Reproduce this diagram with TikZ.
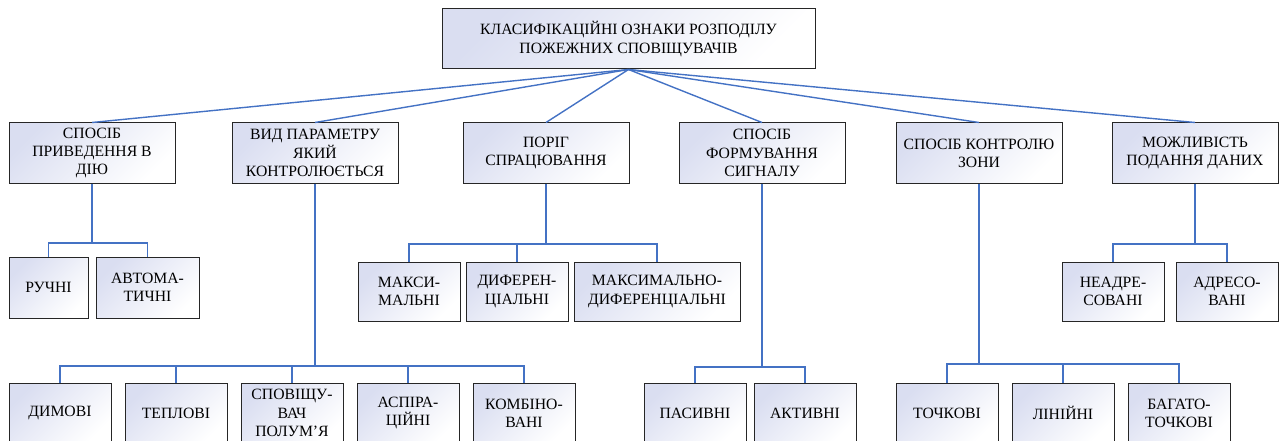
\documentclass[tikz,border=0pt]{standalone}
\usepackage{fontspec}
\setmainfont{Liberation Serif}
\usepackage{tikz}
\usetikzlibrary{positioning}

\definecolor{wireblue}{RGB}{68,114,196}
\definecolor{boxtint}{RGB}{218,222,241}

\begin{document}
\begin{tikzpicture}[x=1pt, y=-1pt,
    box/.style={draw=black!85, line width=1pt, top color=boxtint, bottom color=white,
      shading angle=45, align=center, inner sep=0pt,
      font=\fontsize{15.7}{18.2}\selectfont},
    head/.style={box, minimum width=166pt, minimum height=60pt},
    leaf/.style={box, minimum width=102pt, minimum height=60pt},
    wire/.style={draw=wireblue, line width=1.4pt}]
    \useasboundingbox (0,0) rectangle (1282,441);

    \node[box, minimum width=373pt, minimum height=60pt] (top) at (628.5,39)
      {КЛАСИФІКАЦІЙНІ ОЗНАКИ РОЗПОДІЛУ\\ПОЖЕЖНИХ СПОВІЩУВАЧІВ};

    \node[head] (act) at (92,153)   {СПОСІБ\\ПРИВЕДЕННЯ В\\ДІЮ};
    \node[head] (par) at (315,153)  {ВИД ПАРАМЕТРУ\\ЯКИЙ\\КОНТРОЛЮЄТЬСЯ};
    \node[head] (thr) at (546,153)  {ПОРІГ\\СПРАЦЮВАННЯ};
    \node[head] (sig) at (762,153)  {СПОСІБ\\ФОРМУВАННЯ\\СИГНАЛУ};
    \node[head] (zon) at (979,153)  {СПОСІБ КОНТРОЛЮ\\ЗОНИ};
    \node[head] (dat) at (1195,153) {МОЖЛИВІСТЬ\\ПОДАННЯ ДАНИХ};

    \draw[wire] (top.south) -- (act.north);
    \draw[wire] (top.south) -- (par.north);
    \draw[wire] (top.south) -- (thr.north);
    \draw[wire] (top.south) -- (sig.north);
    \draw[wire] (top.south) -- (zon.north);
    \draw[wire] (top.south) -- (dat.north);

    \node[leaf, minimum width=79pt, minimum height=61pt] (man) at (48.5,287.5) {РУЧНІ};
    \node[leaf, minimum width=103pt, minimum height=61pt] (aut) at (147.5,287.5) {АВТОМА-\\ТИЧНІ};

    \node[leaf, minimum height=59pt] (max) at (409,291.5) {МАКСИ-\\МАЛЬНІ};
    \node[leaf, minimum height=59pt] (dif) at (517,291.5) {ДИФЕРЕН-\\ЦІАЛЬНІ};
    \node[leaf, minimum width=166pt, minimum height=59pt] (mxd) at (657,291.5)
      {МАКСИМАЛЬНО-\\ДИФЕРЕНЦІАЛЬНІ};

    \node[leaf, minimum height=59pt] (nad) at (1113,291.5) {НЕАДРЕ-\\СОВАНІ};
    \node[leaf, minimum height=59pt] (adr) at (1227,291.5) {АДРЕСО-\\ВАНІ};

    \node[leaf] (smk) at (60,413)  {ДИМОВІ};
    \node[leaf] (hea) at (176,413) {ТЕПЛОВІ};
    \node[leaf] (fla) at (292,413) {СПОВІЩУ-\\ВАЧ\\ПОЛУМ’Я};
    \node[leaf] (asp) at (408,413) {АСПІРА-\\ЦІЙНІ};
    \node[leaf] (cmb) at (524,413) {КОМБІНО-\\ВАНІ};

    \node[leaf] (pas) at (695,413)  {ПАСИВНІ};
    \node[leaf] (act2) at (805,413) {АКТИВНІ};

    \node[leaf] (pnt) at (947,413)  {ТОЧКОВІ};
    \node[leaf] (lin) at (1063,413) {ЛІНІЙНІ};
    \node[leaf] (mul) at (1179,413) {БАГАТО-\\ТОЧКОВІ};

    \coordinate (b1) at (92,243);
    \coordinate (b2) at (315,366);
    \coordinate (b3) at (546,244);
    \coordinate (b4) at (762,367);
    \coordinate (b5) at (979,364);
    \coordinate (b6) at (1195,244);

    \draw[wire] (act.south) -- (b1) -| (man.north);
    \draw[wire] (b1) -| (aut.north);

    \draw[wire] (par.south) -- (b2) -| (smk.north);
    \draw[wire] (b2) -| (hea.north);
    \draw[wire] (b2) -| (fla.north);
    \draw[wire] (b2) -| (asp.north);
    \draw[wire] (b2) -| (cmb.north);

    \draw[wire] (thr.south) -- (b3) -| (max.north);
    \draw[wire] (b3) -| (dif.north);
    \draw[wire] (b3) -| (mxd.north);

    \draw[wire] (sig.south) -- (b4) -| (pas.north);
    \draw[wire] (b4) -| (act2.north);

    \draw[wire] (zon.south) -- (b5) -| (pnt.north);
    \draw[wire] (b5) -| (lin.north);
    \draw[wire] (b5) -| (mul.north);

    \draw[wire] (dat.south) -- (b6) -| (nad.north);
    \draw[wire] (b6) -| (adr.north);
  \end{tikzpicture}
\end{document}
